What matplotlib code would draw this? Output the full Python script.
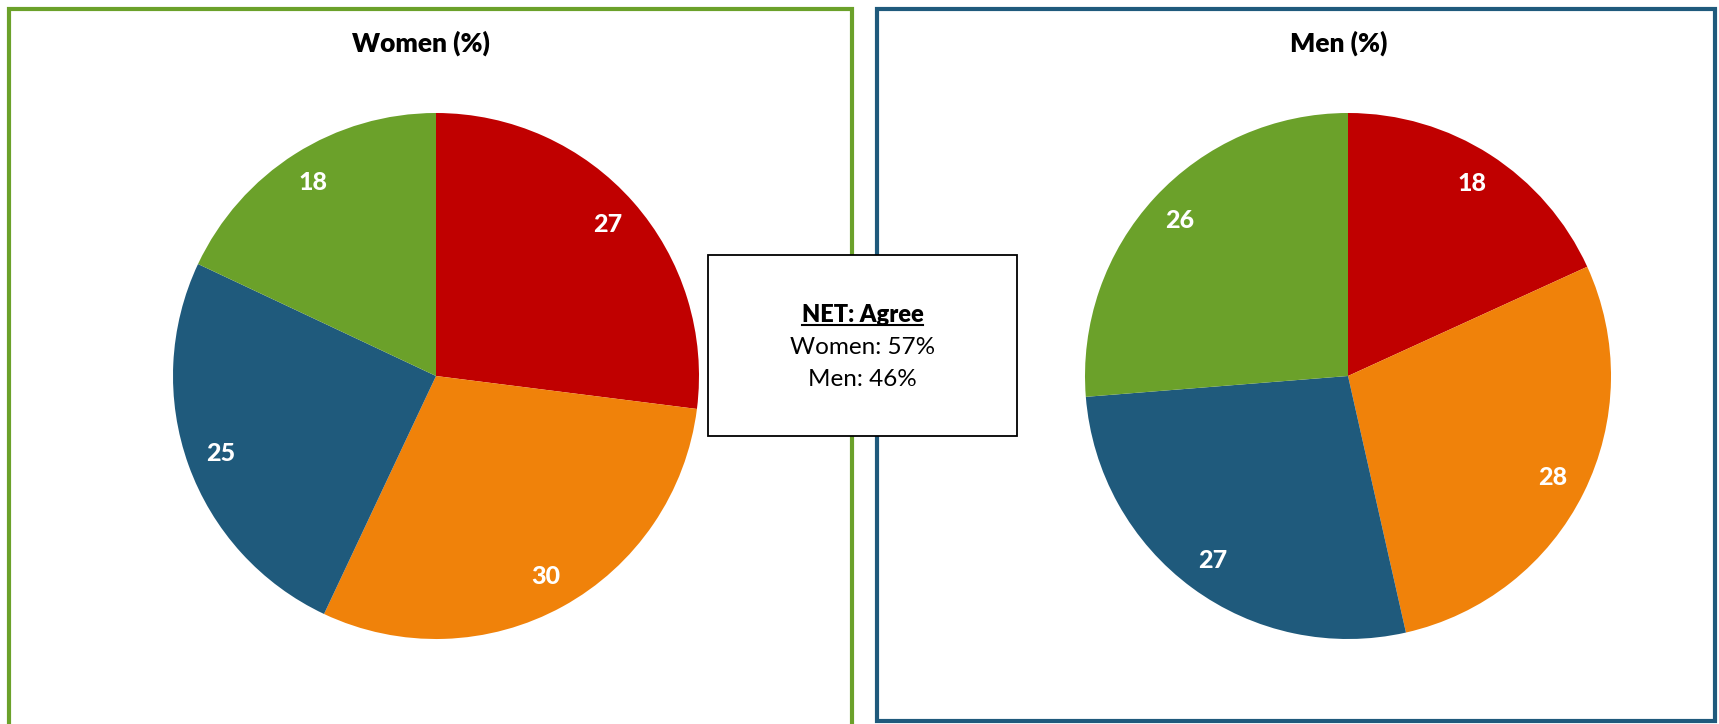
import matplotlib.pyplot as plt
from matplotlib.patches import Rectangle
from matplotlib.lines import Line2D

# Data
segment_colors = ['#C00000', '#F0820A', '#1F5A7C', '#6BA12A']
women_values = [27, 30, 25, 18]
men_values = [18, 28, 27, 26]
panel_titles = ['Women (%)', 'Men (%)']
net_lines = ['NET: Agree', 'Women: 57%', 'Men: 46%']

W, H = 1719, 724
plt.rcParams['font.family'] = ['Lato', 'DejaVu Sans']

fig = plt.figure(figsize=(W / 100, H / 100), dpi=100)


def px_box(x0, y0, x1, y1):
    # pixel box (top-left origin) -> figure fraction rect
    return [x0 / W, 1 - y1 / H, (x1 - x0) / W, (y1 - y0) / H]


# panel frames
fig.patches.append(Rectangle((9 / W, -0.01), (852 - 9) / W, 1 - 9 / H + 0.01,
                             transform=fig.transFigure, fill=False,
                             edgecolor='#6BA12A', linewidth=3))
fig.patches.append(Rectangle((877 / W, 1 - 721 / H), (1715 - 877) / W, (721 - 9) / H,
                             transform=fig.transFigure, fill=False,
                             edgecolor='#1F5A7C', linewidth=3))


def draw_pie(cx, values, title, tx):
    r = 263
    cy = 376
    ax = fig.add_axes(px_box(cx - r, cy - r, cx + r, cy + r))
    wedges, texts = ax.pie(values, colors=segment_colors, startangle=90,
                           counterclock=False, labels=[str(v) for v in values],
                           labeldistance=0.87,
                           wedgeprops=dict(linewidth=0),
                           textprops=dict(color='white', fontsize=18,
                                          fontweight='black'))
    for t in texts:
        t.set_ha('center')
        t.set_va('center')
    ax.set_xlim(-1, 1)
    ax.set_ylim(-1, 1)
    ax.set_aspect('equal')
    ax.axis('off')
    fig.text(tx / W, 1 - 43 / H, title, ha='center', va='center',
             fontsize=19, fontweight='heavy', color='black')


draw_pie(436, women_values, panel_titles[0], 421)
draw_pie(1348, men_values, panel_titles[1], 1339)

# center NET box
fig.patches.append(Rectangle((708 / W, 1 - 436 / H), (1017 - 708) / W, (436 - 255) / H,
                             transform=fig.transFigure, facecolor='white',
                             edgecolor='black', linewidth=1.3, zorder=5))
cx = 862.5 / W
head = fig.text(cx, 1 - 315 / H, net_lines[0], ha='center', va='center',
                fontsize=17, fontweight='heavy', zorder=6)
fig.text(cx, 1 - 347 / H, net_lines[1], ha='center', va='center', fontsize=17.5, zorder=6)
fig.text(cx, 1 - 380 / H, net_lines[2], ha='center', va='center', fontsize=17.5, zorder=6)

# underline the heading
fig.canvas.draw()
bb = head.get_window_extent().transformed(fig.transFigure.inverted())
uy = bb.y0 + 0.002
fig.lines.append(Line2D([bb.x0, bb.x1], [uy, uy], transform=fig.transFigure,
                        color='black', linewidth=1.5, zorder=6))

fig.savefig('out.png', dpi=100, facecolor='white')
